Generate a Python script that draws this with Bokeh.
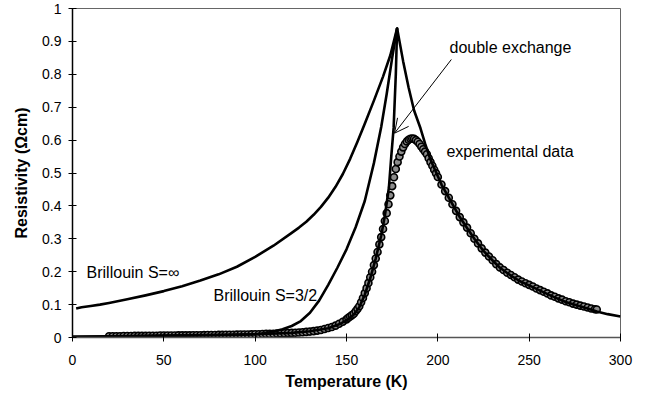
from bokeh.plotting import figure
from bokeh.models import Range1d, FixedTicker, CustomJSTickFormatter, Label, Arrow, OpenHead
from bokeh.embed import file_html
from bokeh.resources import INLINE

# ---------------- data ----------------
x_ticks = [0, 50, 100, 150, 200, 250, 300]
y_ticks = [0, 0.1, 0.2, 0.3, 0.4, 0.5, 0.6, 0.7, 0.8, 0.9, 1.0]

# Brillouin S = infinity (includes paramagnetic branch above Tc)
inf_T = [2, 5, 10, 15, 20, 30, 40, 50, 60, 70, 80, 90, 100, 110, 120, 124, 128, 132,
         136, 140, 144, 148, 152, 156, 160, 165, 170, 174, 177.7, 181, 184, 187, 190.5,
         193, 196, 202, 207, 212, 216, 220, 225, 230, 234, 240, 245, 252, 258, 264, 270,
         276, 282, 287, 293, 300]
inf_R = [0.088, 0.092, 0.096, 0.100, 0.105, 0.116, 0.128, 0.141, 0.156, 0.173, 0.192,
         0.215, 0.245, 0.279, 0.318, 0.334, 0.352, 0.373, 0.397, 0.425, 0.458, 0.497,
         0.543, 0.595, 0.650, 0.720, 0.793, 0.858, 0.940, 0.840, 0.760, 0.690, 0.636,
         0.590, 0.540, 0.465, 0.415, 0.366, 0.333, 0.300, 0.263, 0.234, 0.212, 0.188,
         0.171, 0.153, 0.137, 0.122, 0.108, 0.098, 0.088, 0.079, 0.071, 0.064]

# Brillouin S = 3/2
s32_T = [0, 20, 50, 80, 90, 100, 105, 110, 115, 120, 125, 130, 135, 140, 145, 150,
         155, 160, 165, 169, 172, 175, 177.7]
s32_R = [0.002, 0.003, 0.005, 0.007, 0.008, 0.010, 0.013, 0.018, 0.025, 0.035, 0.050,
         0.075, 0.112, 0.160, 0.212, 0.268, 0.335, 0.415, 0.530, 0.640, 0.740, 0.850,
         0.940]

# double exchange
de_T = [0, 20, 50, 100, 120, 130, 140, 146, 150, 154, 157, 160, 163, 166, 169, 171,
        173.2, 174.5, 175.8, 177, 177.7]
de_R = [0.002, 0.004, 0.006, 0.010, 0.014, 0.019, 0.028, 0.040, 0.052, 0.070, 0.092,
        0.130, 0.180, 0.240, 0.310, 0.370, 0.455, 0.550, 0.637, 0.800, 0.940]

# experimental data
exp_T = [20, 22, 24, 26, 28, 30, 32, 34, 36, 38,
         40, 42, 44, 46, 48, 50, 52, 54, 56, 58,
         60, 62, 64, 66, 68, 70, 72, 74, 76, 78,
         80, 82, 84, 86, 88, 90, 92, 94, 96, 98,
         100, 102, 104, 106, 108, 110, 112, 114, 116, 118,
         120, 122, 124, 126, 128, 130, 132, 134, 136, 138,
         140, 142, 144, 146, 148,
         150, 151, 152, 153, 154, 155, 156, 157, 158, 159,
         160, 161, 162, 163, 164, 165, 166, 167, 168, 169,
         170, 171, 172, 173, 174, 175, 176, 177, 178, 179,
         180, 181, 182, 183, 184, 185, 186, 187, 188, 189,
         190, 191, 192, 193, 194, 195, 196, 197, 198, 199,
         200,
         202, 204, 206, 208, 210, 212, 214, 216, 218, 220,
         222, 224, 226, 228, 230, 232, 234, 236, 238, 240,
         242, 244, 246, 248, 250, 252, 254, 256, 258, 260,
         262, 264, 266, 268, 270, 272, 274, 276, 278, 280,
         282, 284, 286, 287]
exp_R = [0.004, 0.004, 0.004, 0.004, 0.0045, 0.0045, 0.0045, 0.005, 0.005, 0.005,
         0.005, 0.0055, 0.0055, 0.0055, 0.006, 0.006, 0.006, 0.006, 0.006, 0.0065,
         0.0065, 0.0065, 0.0065, 0.007, 0.007, 0.007, 0.0072, 0.0075, 0.0075, 0.0078,
         0.008, 0.008, 0.0082, 0.0085, 0.0085, 0.0088, 0.009, 0.009, 0.0092, 0.0095,
         0.0098, 0.010, 0.0105, 0.011, 0.011, 0.0115, 0.012, 0.0125, 0.013, 0.0135,
         0.014, 0.0145, 0.015, 0.016, 0.017, 0.018, 0.0195, 0.021, 0.023, 0.026,
         0.029, 0.032, 0.036, 0.042, 0.048,
         0.055, 0.060, 0.064, 0.068, 0.072, 0.080, 0.087, 0.095, 0.107, 0.120,
         0.135, 0.150, 0.166, 0.183, 0.200, 0.220, 0.240, 0.260, 0.283, 0.305,
         0.330, 0.354, 0.378, 0.405, 0.432, 0.460, 0.487, 0.512, 0.533, 0.550,
         0.565, 0.578, 0.588, 0.596, 0.601, 0.604, 0.605, 0.604, 0.600, 0.595,
         0.588, 0.580, 0.572, 0.565, 0.557, 0.545, 0.533, 0.522, 0.510, 0.499,
         0.488,
         0.465, 0.445, 0.425, 0.405, 0.385, 0.366, 0.350, 0.334, 0.317, 0.300,
         0.286, 0.271, 0.258, 0.246, 0.235, 0.223, 0.213, 0.205, 0.197, 0.190,
         0.183, 0.176, 0.170, 0.165, 0.160, 0.155, 0.149, 0.144, 0.139, 0.134,
         0.128, 0.124, 0.119, 0.115, 0.110, 0.107, 0.103, 0.100, 0.097, 0.094,
         0.091, 0.088, 0.086, 0.085]

n = min(len(exp_T), len(exp_R))
exp_T, exp_R = exp_T[:n], exp_R[:n]

FONT = "Liberation Sans"

p = figure(frame_width=548, frame_height=329,
           x_range=Range1d(0, 300), y_range=Range1d(0, 1),
           output_backend="svg", toolbar_location=None,
           min_border_left=72, min_border_right=22, min_border_top=8,
           min_border_bottom=10, background_fill_color="white")

p.xgrid.visible = False
p.ygrid.visible = False
p.outline_line_color = "#666666"
p.outline_line_width = 1

p.xaxis.ticker = FixedTicker(ticks=x_ticks)
p.yaxis.ticker = FixedTicker(ticks=y_ticks)
p.yaxis.formatter = CustomJSTickFormatter(code="return String(Math.round(tick*10)/10);")

for ax in (p.xaxis, p.yaxis):
    ax.major_tick_in = 4
    ax.major_tick_out = 4
    ax.minor_tick_line_color = None
    ax.major_tick_line_color = "black"
    ax.major_tick_line_width = 1
    ax.major_label_text_font = FONT
    ax.major_label_text_font_size = "14px"
    ax.major_label_text_color = "black"
    ax.axis_label_text_font = FONT
    ax.axis_label_text_font_size = "16px"
    ax.axis_label_text_font_style = "bold"
    ax.axis_label_text_color = "black"

p.yaxis.axis_line_color = "black"
p.yaxis.axis_line_width = 1.5
p.xaxis.axis_line_color = "#555555"
p.xaxis.axis_line_width = 1.5

p.xaxis.axis_label = "Temperature (K)"
p.yaxis.axis_label = "Resistivity (\u03a9cm)"
p.xaxis.major_label_standoff = 13
p.xaxis.axis_label_standoff = 5
p.yaxis.major_label_standoff = 7
p.yaxis.axis_label_standoff = 9

# experimental data
p.scatter(exp_T, exp_R, marker="circle", size=7, fill_color="#8c8c8c",
          line_color="black", line_width=1.6)

# model curves
p.line(inf_T, inf_R, line_color="black", line_width=2.6, line_join="round")
p.line(s32_T, s32_R, line_color="black", line_width=2.6, line_join="round")
p.line(de_T, de_R, line_color="black", line_width=2.6, line_join="round")

def add_label(x, y, text):
    p.add_layout(Label(x=x, y=y, text=text, text_font=FONT, text_font_size="16px",
                       text_color="black", text_baseline="middle", text_align="left"))

add_label(206.4, 0.882, "double exchange")
add_label(204.7, 0.564, "experimental data")
add_label(7.7, 0.198, "Brillouin S=\u221e")
add_label(77.2, 0.127, "Brillouin S=3/2")

p.add_layout(Arrow(end=OpenHead(size=14, line_width=1, line_color="black"),
                   x_start=207.4, y_start=0.845, x_end=176.3, y_end=0.621,
                   line_width=1, line_color="black"))

open("out.html", "w").write(file_html(p, INLINE))
